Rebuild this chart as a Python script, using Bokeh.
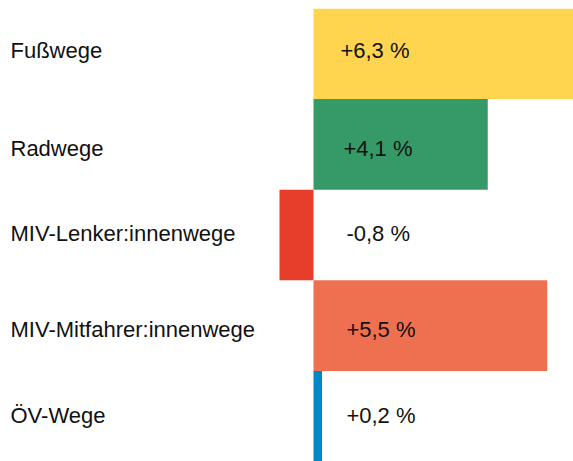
from bokeh.plotting import figure
from bokeh.models import ColumnDataSource, FactorRange, Range1d
from bokeh.core.properties import value
from bokeh.embed import file_html
from bokeh.resources import INLINE

categories = ["Fußwege", "Radwege", "MIV-Lenker:innenwege", "MIV-Mitfahrer:innenwege", "ÖV-Wege"]
changes = [6.3, 4.1, -0.8, 5.5, 0.2]
colors = ["#FFD44E", "#369A68", "#E63E2A", "#EF7050", "#0088C6"]

def fmt(v):
    s = f"{v:+.1f}".replace(".", ",")
    return s + " %"

labels = [fmt(v) for v in changes]

W, H = 573, 461
TOP = 8
zero_px = 313
px_per_unit = 42.5
x_start = -zero_px / px_per_unit
x_end = (W - zero_px) / px_per_unit

# small per-row text nudges (pixels, screen: positive = down)
text_dy = [-3.5, 4, -1.5, 4, -1]
value_dx = [-5, -2, 1, 1, 1]

src = ColumnDataSource(dict(
    cat=categories,
    val=changes,
    color=colors,
    label=labels,
    lx=[0.75] * len(categories),
    cx=[x_start + 10 / px_per_unit] * len(categories),
    dy=text_dy,
    dx=value_dx,
))

p = figure(width=W, height=H, output_backend="svg", toolbar_location=None,
           y_range=FactorRange(*reversed(categories), range_padding=0),
           x_range=Range1d(x_start, x_end),
           min_border=0, min_border_left=0, min_border_right=0,
           min_border_top=TOP, min_border_bottom=0)
p.axis.visible = False
p.grid.visible = False
p.outline_line_color = None
p.background_fill_color = "white"
p.border_fill_color = "white"

p.hbar(y="cat", left=0, right="val", height=1.0, color="color", line_color=None, source=src)

p.text(x="cx", y="cat", text="cat", source=src, text_font=value("Liberation Sans"),
       text_font_size="22px", text_color="#111111", text_align="left", text_baseline="middle",
       y_offset="dy")
p.text(x="lx", y="cat", text="label", source=src, text_font=value("Liberation Sans"),
       text_font_size="22px", text_color="#111111", text_align="left", text_baseline="middle",
       y_offset="dy", x_offset="dx")

open("out.html", "w").write(file_html(p, INLINE))
